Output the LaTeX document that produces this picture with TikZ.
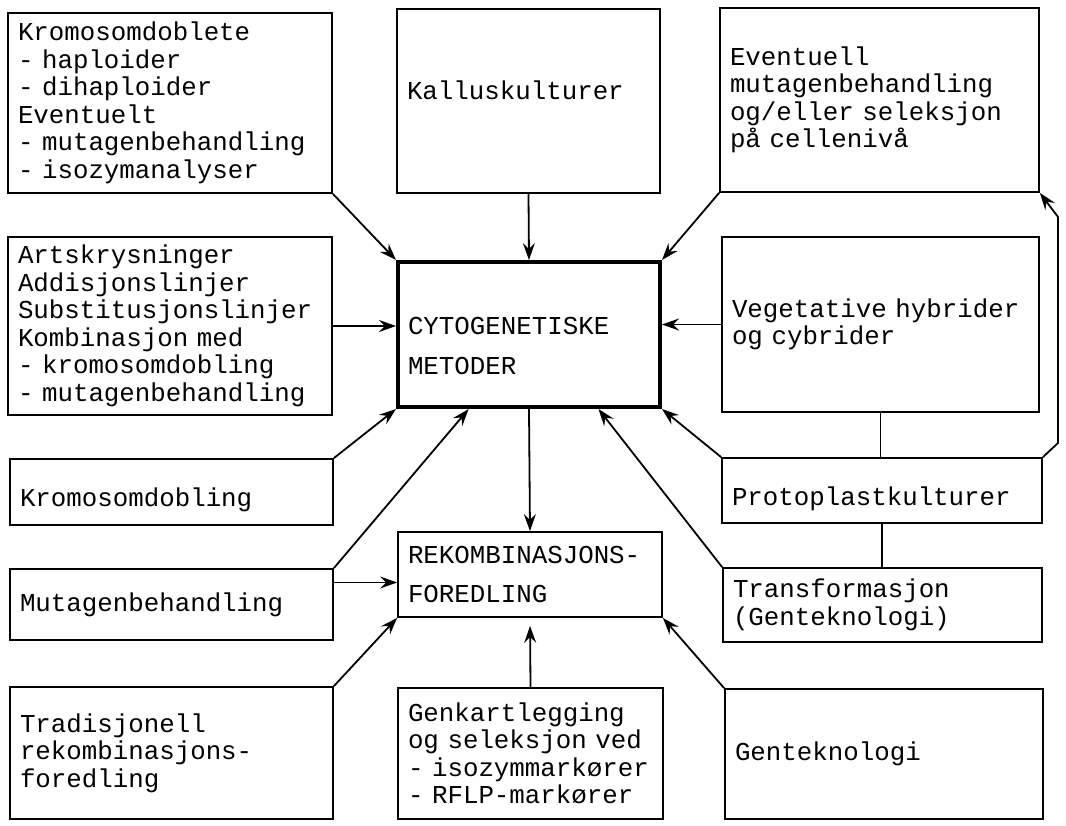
\documentclass[tikz,border=0pt]{standalone}
\usepackage{fontspec}
\newfontfamily\boxfont{Liberation Mono}
\usetikzlibrary{arrows.meta}

\begin{document}
\begin{tikzpicture}[x = 1pt, y = -1pt,
  pbox/.style = {draw, line width = 1.8pt, rectangle, align = left,
    inner xsep = 10pt, inner ysep = 0pt,
    font = {\boxfont\fontsize{25.8}{27.5}\selectfont}},
  mainbox/.style = {pbox, line width = 4pt},
  arr/.style = {-{Stealth[length = 17pt, width = 12pt, inset = 6pt]}, line width = 1.8pt},
  link/.style = {-, line width = 1.8pt}]
  \useasboundingbox (0, 0) rectangle (1066, 825);

  % Draw left column.
  \node[pbox, minimum width = 324, minimum height = 180, text width = 304] (dobl) at (170, 103)
    {Kromosomdoblete\\- haploider\\- dihaploider\\Eventuelt\\- mutagenbehandling\\- isozymanalyser};
  \node[pbox, minimum width = 324, minimum height = 178, text width = 304] (artskr) at (170, 326)
    {Artskrysninger\\Addisjonslinjer\\Substitusjonslinjer\\Kombinasjon med\\- kromosomdobling\\- mutagenbehandling};
  \node[pbox, minimum width = 323, minimum height = 66, text width = 303] (kromdob) at (171.5, 492)
    {\rule{0pt}{35pt}Kromosomdobling};
  \node[pbox, minimum width = 323, minimum height = 71, text width = 303] (mutag) at (171.5, 604.5)
    {Mutagenbehandling};
  \node[pbox, minimum width = 323, minimum height = 132, text width = 303] (tradis) at (171.5, 753)
    {Tradisjonell\\rekombinasjons-\\foredling};

  % Draw middle column.
  \node[pbox, minimum width = 263, minimum height = 184, text width = 243] (kallus) at (528.5, 101)
    {Kalluskulturer\rule[-22pt]{0pt}{22pt}};
  \node[mainbox, minimum width = 262, minimum height = 145, text width = 242] (cyto) at (529, 334.5)
    {\rule{0pt}{40pt}CYTOGENETISKE\\[12pt]METODER};
  \node[pbox, minimum width = 264, minimum height = 85, text width = 244] (rekomb) at (530, 574.5)
    {REKOMBINASJONS-\\[12pt]FOREDLING};
  \node[pbox, minimum width = 265, minimum height = 131, text width = 245] (genkart) at (530.5, 753.5)
    {Genkartlegging\\og~seleksjon~ved\\-~isozymmarkører\\-~RFLP-markører};

  % Draw right column.
  \node[pbox, minimum width = 319, minimum height = 184, text width = 299] (evnt) at (879.5, 100)
    {Eventuell\\mutagenbehandling\\og/eller seleksjon\\på cellenivå};
  \node[pbox, minimum width = 317, minimum height = 175, text width = 297] (veget) at (880.5, 324.5)
    {Vegetative~hybrider\\og cybrider};
  \node[pbox, minimum width = 320, minimum height = 65, text width = 300] (proto) at (882, 490.5)
    {\rule{0pt}{35pt}Protoplastkulturer};
  \node[pbox, minimum width = 319, minimum height = 74, text width = 299] (transf) at (882.5, 605)
    {Transformasjon\\(Genteknologi)};
  \node[pbox, minimum width = 318, minimum height = 130, text width = 298] (gentek) at (884, 754)
    {Genteknologi};

  % Draw arrows into the cytogenetic box.
  \foreach \src/\dst in {dobl.south east/cyto.north west, kallus.south/cyto.north,
      evnt.south west/cyto.north east, kromdob.north east/cyto.south west,
      mutag.north east/cyto.231, transf.north west/cyto.313, proto.north west/cyto.south east} {
    \draw[arr] (\src) -- (\dst);
  };
  \draw[arr] (artskr.east) -- (artskr.east -| cyto.west);
  \draw[arr] (veget.west) -- (veget.west -| cyto.east);

  % Draw arrows into the recombination box.
  \foreach \src/\dst in {cyto.south/rekomb.north, tradis.north east/rekomb.south west,
      gentek.north west/rekomb.south east} {
    \draw[arr] (\src) -- (\dst);
  };
  \draw[arr, shorten > = 8pt] (genkart.north) -- (rekomb.south);
  \draw[arr] ([yshift = -8pt]rekomb.west -| mutag.east) -- ([yshift = -8pt]rekomb.west);

  % Draw protoplast links.
  \draw[link] (veget.south) -- (proto.north -| veget.south);
  \draw[link] (proto.south) -- (transf.north -| proto.south);
  \coordinate (loopa) at (1058, 443);
  \coordinate (loopb) at (1058, 217);
  \draw[arr] (proto.north east) -- (loopa) -- (loopb) -- (evnt.south east);
\end{tikzpicture}
\end{document}
